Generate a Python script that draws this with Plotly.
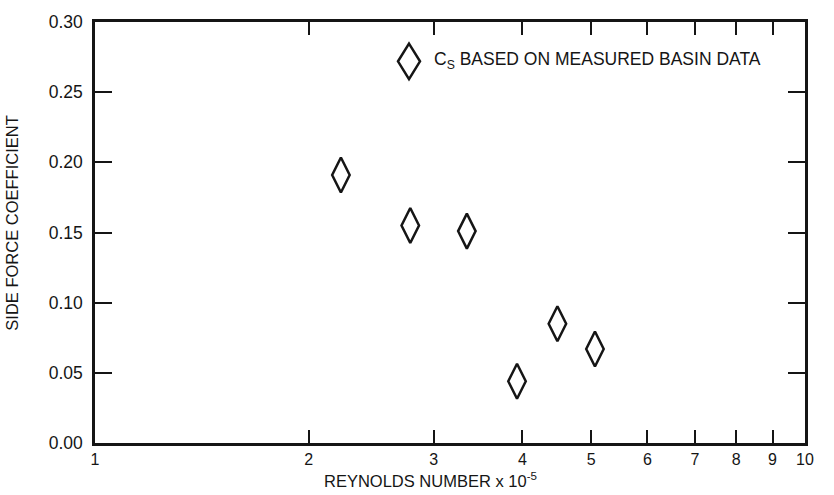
import plotly.graph_objects as go

# Data
reynolds = [2.22, 2.78, 3.34, 3.93, 4.48, 5.06]
side_force = [0.191, 0.155, 0.151, 0.044, 0.085, 0.067]

x_tickvals = [1, 2, 3, 4, 5, 6, 7, 8, 9, 10]
x_ticktext = ["1", "2", "3", "4", "5", "6", "7", "8", "9", "10"]
y_tickvals = [0.0, 0.05, 0.10, 0.15, 0.20, 0.25, 0.30]
y_ticktext = ["0.00", "0.05", "0.10", "0.15", "0.20", "0.25", "0.30"]

FONT = "Liberation Sans, Arial, Helvetica, sans-serif"
INK = "#151515"

W, H = 834, 495
L, R, T, B = 95, 29, 15, 52
PW, PH = W - L - R, H - T - B

def px(xp):
    return (xp - L) / PW

def py(yp):
    return (H - B - yp) / PH

fig = go.Figure()
fig.add_trace(go.Scatter(
    x=reynolds, y=side_force, mode="markers",
    marker=dict(symbol="diamond-tall-open", size=25, color=INK,
                line=dict(color=INK, width=2.5)),
    showlegend=False,
))

# legend key (diamond outline) drawn as a layout decoration
cx, cy = px(409), py(55)
hw, hh = 11 / PW, 18 / PH
fig.add_shape(type="path", xref="paper", yref="paper",
              path=f"M {cx},{cy+hh} L {cx+hw},{cy} L {cx},{cy-hh} L {cx-hw},{cy} Z",
              line=dict(color=INK, width=2.5))
fig.add_annotation(xref="paper", yref="paper", x=px(432), y=py(54),
                   xanchor="left", yanchor="middle", showarrow=False,
                   text="C<sub>S</sub> BASED ON MEASURED BASIN DATA",
                   font=dict(family=FONT, size=17.5, color=INK))

# axis titles
fig.add_annotation(xref="paper", yref="paper", x=px(322), y=py(481),
                   xanchor="left", yanchor="middle", showarrow=False,
                   text="REYNOLDS NUMBER x 10<sup>-5</sup>",
                   font=dict(family=FONT, size=16.5, color=INK))
fig.add_annotation(xref="paper", yref="paper", x=px(12), y=py(220),
                   xanchor="center", yanchor="middle", showarrow=False,
                   textangle=-90, text="SIDE FORCE COEFFICIENT",
                   font=dict(family=FONT, size=16.5, color=INK))

fig.update_xaxes(type="log", range=[0, 1], tickvals=x_tickvals, ticktext=x_ticktext,
                 ticks="inside", ticklen=13, tickwidth=2, tickcolor=INK,
                 showline=True, linewidth=2.5, linecolor=INK, mirror="ticks",
                 showgrid=False, zeroline=False,
                 tickfont=dict(family=FONT, size=16, color=INK))
fig.update_yaxes(range=[0, 0.30], tickvals=y_tickvals, ticktext=y_ticktext,
                 ticks="inside", ticklen=17, tickwidth=2, tickcolor=INK,
                 showline=True, linewidth=2.5, linecolor=INK, mirror="ticks",
                 showgrid=False, zeroline=False, ticklabelstandoff=6,
                 tickfont=dict(family=FONT, size=17.5, color=INK))

fig.update_layout(width=W, height=H, margin=dict(l=L, r=R, t=T, b=B),
                  plot_bgcolor="white", paper_bgcolor="white",
                  font=dict(family=FONT, color=INK))

fig.write_html("out.html")
